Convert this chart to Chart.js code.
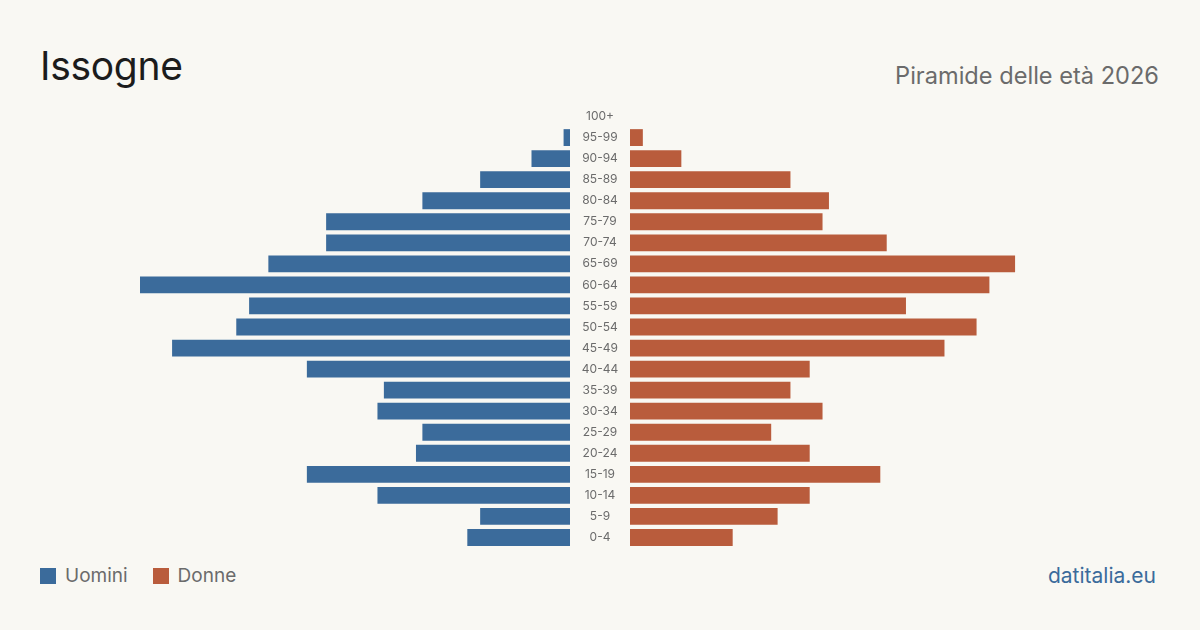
<!DOCTYPE html>
<html>
<head>
<meta charset="utf-8">
<script src="https://cdn.jsdelivr.net/npm/chart.js@4/dist/chart.umd.min.js"></script>
<style>
  html, body { margin: 0; padding: 0; }
  body { width: 1200px; height: 630px; background: #f9f8f3; position: relative; overflow: hidden; font-family: Inter, "Noto Sans", sans-serif; }
  #title { position: absolute; left: 40px; top: 42px; font-size: 39px; font-weight: 400; color: #1c1c1c; line-height: 48px; letter-spacing: -0.3px; }
  #subtitle { position: absolute; right: 41px; top: 62px; font-size: 23.6px; color: #6b6b6b; line-height: 28px; }
  #leftBox { position: absolute; left: 140px; top: 106px; width: 430px; height: 442px; }
  #rightBox { position: absolute; left: 570px; top: 106px; width: 490px; height: 442px; }
  #legend { position: absolute; left: 40px; top: 564px; display: flex; align-items: center; font-size: 19px; color: #6b6b6b; }
  .sw { width: 16px; height: 16px; display: inline-block; margin-right: 9px; }
  .item { display: flex; align-items: center; margin-right: 25px; line-height: 24px; }
  #source { position: absolute; right: 44px; top: 563px; font-size: 21px; color: #3b6b9b; line-height: 26px; }
</style>
</head>
<body>
<div id="title">Issogne</div>
<div id="subtitle">Piramide delle età 2026</div>
<div id="leftBox"><canvas id="left"></canvas></div>
<div id="rightBox"><canvas id="right"></canvas></div>
<div id="legend">
  <div class="item"><span class="sw" style="background:#3b6b9b"></span>Uomini</div>
  <div class="item"><span class="sw" style="background:#b95c3c"></span>Donne</div>
</div>
<div id="source">datitalia.eu</div>
<script>
const ageGroups = ["100+","95-99","90-94","85-89","80-84","75-79","70-74","65-69","60-64","55-59","50-54","45-49","40-44","35-39","30-34","25-29","20-24","15-19","10-14","5-9","0-4"];
const men   = [0,1,6,14,23,38,38,47,67,50,52,62,41,29,30,23,24,41,30,14,16];
const women = [0,2,8,25,31,30,40,60,56,43,54,49,28,25,30,22,28,39,28,23,16];
const seriesNames = ["Uomini", "Donne"];
const colors = { men: "#3b6b9b", women: "#b95c3c" };

const maxVal = Math.max(...men, ...women);
const labelFont = { family: "Inter, 'Noto Sans', sans-serif", size: 12 };
const axisWidth = 60;

// measure widest label to center the tick labels in the middle column
const mc = document.createElement("canvas").getContext("2d");
mc.font = labelFont.size + "px " + labelFont.family;
const widest = Math.max(...ageGroups.map(l => mc.measureText(l).width));
const labelPadding = axisWidth / 2 - widest / 2;

const common = {
  indexAxis: "y",
  responsive: true,
  maintainAspectRatio: false,
  animation: false,
  layout: { padding: 0 },
  plugins: { legend: { display: false }, tooltip: { enabled: false } }
};

new Chart(document.getElementById("left"), {
  type: "bar",
  data: {
    labels: ageGroups,
    datasets: [{ label: seriesNames[0], data: men, backgroundColor: colors.men, barPercentage: 0.8, categoryPercentage: 1.0, borderWidth: 0 }]
  },
  options: {
    ...common,
    scales: {
      x: { display: false, reverse: true, min: 0, max: maxVal },
      y: { display: false }
    }
  }
});

new Chart(document.getElementById("right"), {
  type: "bar",
  data: {
    labels: ageGroups,
    datasets: [{ label: seriesNames[1], data: women, backgroundColor: colors.women, barPercentage: 0.8, categoryPercentage: 1.0, borderWidth: 0 }]
  },
  options: {
    ...common,
    scales: {
      x: { display: false, min: 0, max: maxVal },
      y: {
        position: "left",
        grid: { display: false, drawTicks: false },
        border: { display: false },
        ticks: { color: "#6b6b6b", font: labelFont, crossAlign: "center", padding: labelPadding, autoSkip: false },
        afterFit: (scale) => { scale.width = axisWidth; scale.paddingTop = 0; scale.paddingBottom = 0; }
      }
    }
  }
});
</script>
</body>
</html>
